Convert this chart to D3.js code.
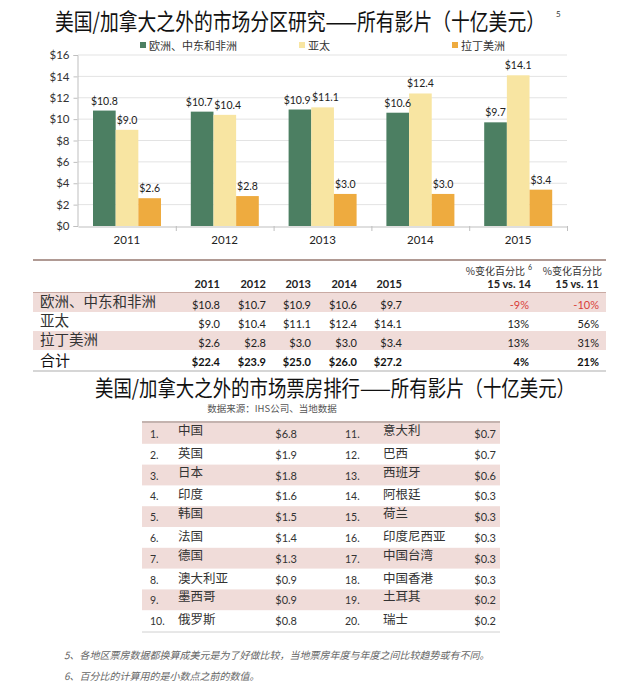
<!DOCTYPE html>
<html><head><meta charset="utf-8">
<script src="https://cdn.jsdelivr.net/npm/d3@7"></script>
<style>
body{margin:0;background:#fff;}
svg{display:block;}
text{font-family:Lato,"Open Sans",sans-serif;}
.cjk{font-family:"Noto Sans CJK SC",sans-serif;}
</style></head>
<body>
<svg id="c" width="640" height="689"></svg>
<script>
// ---- data ----
const years = ["2011","2012","2013","2014","2015"];
const seriesNames = ["欧洲、中东和非洲","亚太","拉丁美洲"];
const emea = [10.8,10.7,10.9,10.6,9.7];
const apac = [9.0,10.4,11.1,12.4,14.1];
const latam = [2.6,2.8,3.0,3.0,3.4];
const totals = [22.4,23.9,25.0,26.0,27.2];
const chg1514 = ["-9%","13%","13%","4%"];
const chg1511 = ["-10%","56%","31%","21%"];
const yTicks = [0,2,4,6,8,10,12,14,16];
const ranks = ["1.","2.","3.","4.","5.","6.","7.","8.","9.","10.","11.","12.","13.","14.","15.","16.","17.","18.","19.","20."];
const countries = ["中国","英国","日本","印度","韩国","法国","德国","澳大利亚","墨西哥","俄罗斯","意大利","巴西","西班牙","阿根廷","荷兰","印度尼西亚","中国台湾","中国香港","土耳其","瑞士"];
const boxOffice = [6.8,1.9,1.8,1.6,1.5,1.4,1.3,0.9,0.9,0.8,0.7,0.7,0.6,0.3,0.3,0.3,0.3,0.3,0.2,0.2];

const colors = ["#4c7f62","#f8e5a2","#eeab3f"];
const pink = "#f0dcd9";
const svg = d3.select("#c");

// ---- title ----
svg.append("g").attr("transform","translate(55,30) scale(1,1.2)")
  .append("text").attr("class","cjk").attr("x",0).attr("y",0)
  .attr("font-size",19).attr("fill","#111")
  .attr("textLength",490).attr("lengthAdjust","spacingAndGlyphs")
  .text("美国/加拿大之外的市场分区研究——所有影片（十亿美元）");
svg.append("text").attr("x",556).attr("y",17).attr("font-size",8).attr("fill","#333").text("5");

// ---- legend ----
const legX = [140,299,452];
seriesNames.forEach((n,i)=>{
  svg.append("rect").attr("x",legX[i]).attr("y",42).attr("width",6).attr("height",6).attr("fill",colors[i]);
  svg.append("text").attr("class","cjk").attr("x",legX[i]+9).attr("y",49.5).attr("font-size",11).attr("fill","#333").text(n);
});

// ---- chart ----
const x0 = d3.scaleBand().domain(years).range([78,567]).paddingInner(0).paddingOuter(0);
const x1 = d3.scaleBand().domain(seriesNames).range([15,83]);
const y = d3.scaleLinear().domain([0,16]).range([226,55]);

svg.append("g").selectAll("line").data(yTicks.slice(1)).join("line")
  .attr("x1",78).attr("x2",567).attr("y1",d=>y(d)).attr("y2",d=>y(d))
  .attr("stroke","#e3e3e3").attr("stroke-width",1);

const yAxis = d3.axisLeft(y).tickValues(yTicks).tickFormat(d=>"$"+d).tickSize(4).tickPadding(4);
const gy = svg.append("g").attr("transform","translate(77.5,0)").call(yAxis);
gy.select(".domain").attr("stroke","#bfbfbf");
gy.selectAll(".tick line").attr("stroke","#bfbfbf");
gy.selectAll("text").attr("font-size",11.5).attr("fill","#333").attr("font-family","Lato,sans-serif");

const gx = svg.append("g").attr("transform","translate(0,226.5)")
  .call(d3.axisBottom(x0).tickSize(0).tickPadding(9));
gx.select(".domain").attr("stroke","#bfbfbf");
gx.selectAll("text").attr("font-size",11.5).attr("fill","#222").attr("font-family","Lato,sans-serif");
svg.append("g").selectAll("line").data(years.slice(1).concat(["end"])).join("line")
  .attr("x1",(d,i)=> i<4 ? x0(d)+0.5 : 567.5).attr("x2",(d,i)=> i<4 ? x0(d)+0.5 : 567.5)
  .attr("y1",226).attr("y2",231).attr("stroke","#bfbfbf");

const allSeries = [emea,apac,latam];
const groups = svg.append("g").selectAll("g").data(years).join("g")
  .attr("transform",d=>`translate(${x0(d)},0)`);
groups.each(function(yr,yi){
  const g = d3.select(this);
  seriesNames.forEach((s,si)=>{
    const v = allSeries[si][yi];
    g.append("rect").attr("x",x1(s)).attr("width",x1.bandwidth())
      .attr("y",y(v)).attr("height",y(0)-y(v)).attr("fill",colors[si]);
  });
  const labels = seriesNames.map((s,si)=>{
    const v = allSeries[si][yi];
    return g.append("text").attr("x",x1(s)+x1.bandwidth()/2).attr("y",y(v)-6)
      .attr("text-anchor","middle").attr("font-size",10.5).attr("fill","#222")
      .text("$"+v.toFixed(1));
  });
  // nudge horizontally overlapping neighbouring labels apart
  for(let i=0;i<labels.length-1;i++){
    const a = labels[i].node().getBBox(), b = labels[i+1].node().getBBox();
    const vOver = !(a.y+a.height < b.y || b.y+b.height < a.y);
    const overlap = (a.x+a.width+1.5) - b.x;
    if(vOver && overlap>0){
      labels[i].attr("x", +labels[i].attr("x") - overlap/2);
      labels[i+1].attr("x", +labels[i+1].attr("x") + overlap/2);
    }
  }
});

// ---- table 1 ----
const tL = 33, tR = 606;
const colRight = [220,266,311,357,402,531,601];
svg.append("line").attr("x1",tL).attr("x2",tR).attr("y1",260).attr("y2",260).attr("stroke","#b09a94").attr("stroke-width",2);
years.forEach((yr,i)=>{
  svg.append("text").attr("x",colRight[i]).attr("y",288).attr("text-anchor","end")
    .attr("font-size",11).attr("font-weight","bold").attr("fill","#222").text(yr);
});
svg.append("text").attr("class","cjk").attr("x",525).attr("y",275).attr("text-anchor","end").attr("font-size",10).attr("fill","#333").text("%变化百分比");
svg.append("text").attr("x",528).attr("y",270).attr("font-size",7).attr("fill","#333").text("6");
svg.append("text").attr("x",531).attr("y",288).attr("text-anchor","end").attr("font-size",11).attr("font-weight","bold").attr("fill","#222").text("15 vs. 14");
svg.append("text").attr("class","cjk").attr("x",602).attr("y",275).attr("text-anchor","end").attr("font-size",10).attr("fill","#333").text("%变化百分比");
svg.append("text").attr("x",599).attr("y",288).attr("text-anchor","end").attr("font-size",11).attr("font-weight","bold").attr("fill","#222").text("15 vs. 11");

const rowTops = [293,312,331];
svg.append("line").attr("x1",tL).attr("x2",tR).attr("y1",292.5).attr("y2",292.5).attr("stroke","#c9aaa3").attr("stroke-width",1);
seriesNames.forEach((n,ri)=>{
  const top = rowTops[ri];
  if(ri!==1) svg.append("rect").attr("x",tL).attr("y",top).attr("width",tR-tL).attr("height",19).attr("fill",pink);
  svg.append("text").attr("class","cjk").attr("x",40).attr("y",top+14).attr("font-size",14.5).attr("fill","#333").text(n);
  allSeries[ri].forEach((v,ci)=>{
    svg.append("text").attr("x",colRight[ci]).attr("y",top+16).attr("text-anchor","end")
      .attr("font-size",11).attr("fill","#222").text("$"+v.toFixed(1));
  });
  const red = ri===0 ? "#d9413a" : "#222";
  svg.append("text").attr("x",colRight[5]-2).attr("y",top+16).attr("text-anchor","end").attr("font-size",11).attr("fill",red).text(chg1514[ri]);
  svg.append("text").attr("x",colRight[6]-2).attr("y",top+16).attr("text-anchor","end").attr("font-size",11).attr("fill",red).text(chg1511[ri]);
});
svg.append("text").attr("class","cjk").attr("x",40).attr("y",366).attr("font-size",15).attr("fill","#111").text("合计");
totals.forEach((v,ci)=>{
  svg.append("text").attr("x",colRight[ci]).attr("y",366).attr("text-anchor","end")
    .attr("font-size",11).attr("font-weight","bold").attr("fill","#111").text("$"+v.toFixed(1));
});
svg.append("text").attr("x",colRight[5]-2).attr("y",366).attr("text-anchor","end").attr("font-size",11).attr("font-weight","bold").attr("fill","#111").text(chg1514[3]);
svg.append("text").attr("x",colRight[6]-2).attr("y",366).attr("text-anchor","end").attr("font-size",11).attr("font-weight","bold").attr("fill","#111").text(chg1511[3]);
svg.append("line").attr("x1",tL).attr("x2",tR).attr("y1",371).attr("y2",371).attr("stroke","#c8c8c8").attr("stroke-width",1.5);

// ---- title 2 ----
svg.append("g").attr("transform","translate(95,396) scale(1,1.15)")
  .append("text").attr("class","cjk").attr("x",0).attr("y",0)
  .attr("font-size",18.5).attr("fill","#111")
  .attr("textLength",480).attr("lengthAdjust","spacingAndGlyphs")
  .text("美国/加拿大之外的市场票房排行——所有影片（十亿美元）");
svg.append("text").attr("class","cjk").attr("x",272).attr("y",412).attr("text-anchor","middle")
  .attr("font-size",9.5).attr("fill","#555").text("数据来源：IHS公司、当地数据");

// ---- table 2 ----
const t2L = 142, t2R = 500, t2Top = 423, rh = 20.8;
svg.append("line").attr("x1",t2L).attr("x2",t2R).attr("y1",t2Top-1).attr("y2",t2Top-1).attr("stroke","#b09a94").attr("stroke-width",1.5);
const rowIdx = d3.range(10);
svg.append("g").selectAll("rect").data(rowIdx.filter(i=>i%2===0)).join("rect")
  .attr("x",t2L).attr("y",i=>t2Top+i*rh).attr("width",t2R-t2L).attr("height",rh).attr("fill",pink);
rowIdx.forEach(i=>{
  const yy = t2Top + i*rh;
  [[0,150,178,297],[10,345,383,496]].forEach(([off,rx,nx,vx])=>{
    const k = i+off;
    svg.append("text").attr("x",rx).attr("y",yy+15).attr("font-size",10.5).attr("fill","#333").text(ranks[k]);
    svg.append("text").attr("class","cjk").attr("x",nx).attr("y",yy+(k%2===0?12:14)).attr("font-size",12.5).attr("fill","#333").text(countries[k]);
    svg.append("text").attr("x",vx).attr("y",yy+15).attr("text-anchor","end").attr("font-size",11).attr("fill","#333").text("$"+boxOffice[k].toFixed(1));
  });
});
svg.append("line").attr("x1",t2L).attr("x2",t2R).attr("y1",t2Top+10*rh+1).attr("y2",t2Top+10*rh+1).attr("stroke","#d0d0d0").attr("stroke-width",1);

// ---- footnotes ----
svg.append("text").attr("class","cjk").attr("x",64).attr("y",659).attr("font-size",10).attr("font-style","italic").attr("fill","#666")
  .text("5、各地区票房数据都换算成美元是为了好做比较，当地票房年度与年度之间比较趋势或有不同。");
svg.append("text").attr("class","cjk").attr("x",64).attr("y",680).attr("font-size",10).attr("font-style","italic").attr("fill","#666")
  .text("6、百分比的计算用的是小数点之前的数值。");
</script>
</body></html>
